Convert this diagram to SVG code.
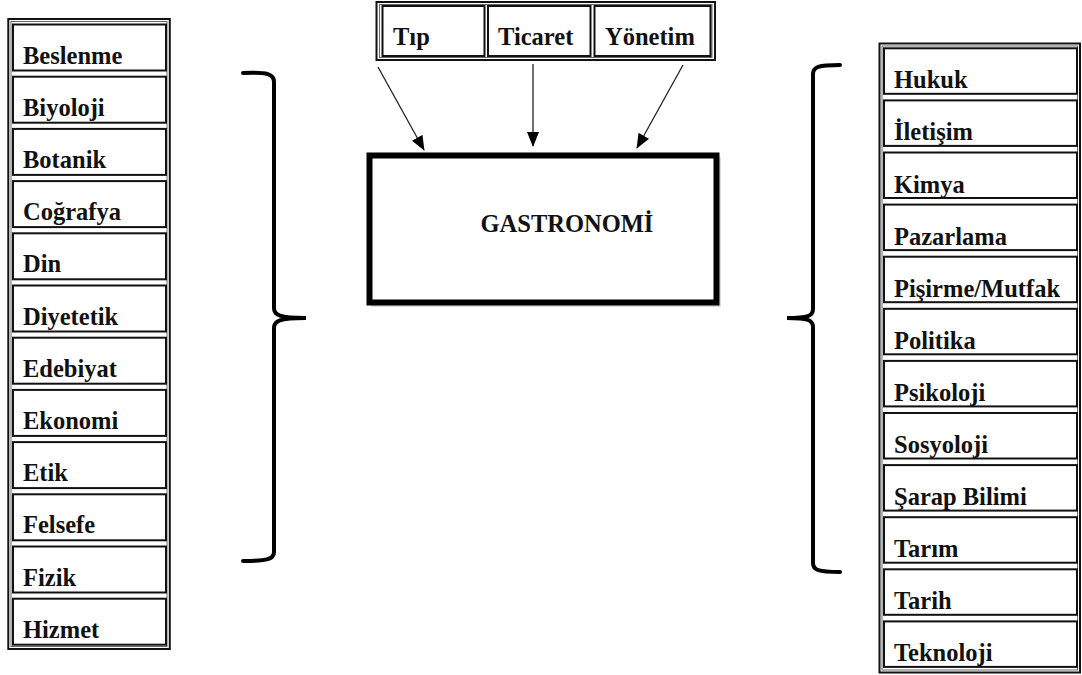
<svg xmlns="http://www.w3.org/2000/svg" width="1082" height="675" viewBox="0 0 1082 675">
<defs>
<style>
text{font-family:'Liberation Serif','Times New Roman','DejaVu Serif',serif;font-weight:700;font-size:24.5px;fill:#111}
.outer{fill:#fff;stroke:#111;stroke-width:2}
.inner{fill:none;stroke:#666;stroke-width:1}
.cell{fill:#fff;stroke:#111;stroke-width:2}
.conn{stroke:#222;stroke-width:1.3;fill:none}
.brace{stroke:#000;stroke-width:4;fill:none;stroke-linecap:round}
</style>
<marker id="ah" markerWidth="15" markerHeight="12" refX="14" refY="6" orient="auto" markerUnits="userSpaceOnUse">
<path d="M0,0 L15,6 L0,12 Z" fill="#000"/>
</marker>
</defs>
<rect width="1082" height="675" fill="#fff"/>

<g id="left-table">
<rect class="outer" x="8.3" y="19" width="161.5" height="630"/>
<rect class="inner" x="11" y="21.5" width="156" height="625"/>
<g id="n-beslenme"><rect class="cell" x="13" y="24.5" width="153" height="46"/><text x="23" y="63.5">Beslenme</text></g>
<g id="n-biyoloji"><rect class="cell" x="13" y="76.7" width="153" height="46"/><text x="23" y="115.7">Biyoloji</text></g>
<g id="n-botanik"><rect class="cell" x="13" y="128.9" width="153" height="46"/><text x="23" y="167.9">Botanik</text></g>
<g id="n-cografya"><rect class="cell" x="13" y="181.1" width="153" height="46"/><text x="23" y="220.1">Coğrafya</text></g>
<g id="n-din"><rect class="cell" x="13" y="233.3" width="153" height="46"/><text x="23" y="272.3">Din</text></g>
<g id="n-diyetetik"><rect class="cell" x="13" y="285.5" width="153" height="46"/><text x="23" y="324.5">Diyetetik</text></g>
<g id="n-edebiyat"><rect class="cell" x="13" y="337.7" width="153" height="46"/><text x="23" y="376.7">Edebiyat</text></g>
<g id="n-ekonomi"><rect class="cell" x="13" y="389.9" width="153" height="46"/><text x="23" y="428.9">Ekonomi</text></g>
<g id="n-etik"><rect class="cell" x="13" y="442.1" width="153" height="46"/><text x="23" y="481.1">Etik</text></g>
<g id="n-felsefe"><rect class="cell" x="13" y="494.3" width="153" height="46"/><text x="23" y="533.3">Felsefe</text></g>
<g id="n-fizik"><rect class="cell" x="13" y="546.5" width="153" height="46"/><text x="23" y="585.5">Fizik</text></g>
<g id="n-hizmet"><rect class="cell" x="13" y="598.7" width="153" height="46"/><text x="23" y="637.7">Hizmet</text></g>
</g>

<g id="right-table">
<rect class="outer" x="879.5" y="43.5" width="200.5" height="629"/>
<rect class="inner" x="882" y="46" width="195.5" height="624"/>
<g id="n-hukuk"><rect class="cell" x="884" y="48.3" width="193" height="45.5"/><text x="894" y="88.3">Hukuk</text></g>
<g id="n-iletisim"><rect class="cell" x="884" y="100.4" width="193" height="45.5"/><text x="894" y="140.4">İletişim</text></g>
<g id="n-kimya"><rect class="cell" x="884" y="152.5" width="193" height="45.5"/><text x="894" y="192.5">Kimya</text></g>
<g id="n-pazarlama"><rect class="cell" x="884" y="204.6" width="193" height="45.5"/><text x="894" y="244.6">Pazarlama</text></g>
<g id="n-pisirme"><rect class="cell" x="884" y="256.7" width="193" height="45.5"/><text x="894" y="296.7">Pişirme/Mutfak</text></g>
<g id="n-politika"><rect class="cell" x="884" y="308.8" width="193" height="45.5"/><text x="894" y="348.8">Politika</text></g>
<g id="n-psikoloji"><rect class="cell" x="884" y="360.9" width="193" height="45.5"/><text x="894" y="400.9">Psikoloji</text></g>
<g id="n-sosyoloji"><rect class="cell" x="884" y="413" width="193" height="45.5"/><text x="894" y="453">Sosyoloji</text></g>
<g id="n-sarap"><rect class="cell" x="884" y="465.1" width="193" height="45.5"/><text x="894" y="505.1">Şarap Bilimi</text></g>
<g id="n-tarim"><rect class="cell" x="884" y="517.2" width="193" height="45.5"/><text x="894" y="557.2">Tarım</text></g>
<g id="n-tarih"><rect class="cell" x="884" y="569.3" width="193" height="45.5"/><text x="894" y="609.3">Tarih</text></g>
<g id="n-teknoloji"><rect class="cell" x="884" y="621.4" width="193" height="45.5"/><text x="894" y="661.4">Teknoloji</text></g>
</g>

<g id="top-table">
<rect class="outer" x="376.5" y="2" width="338.5" height="58"/>
<rect class="inner" x="379.5" y="4.5" width="332.5" height="53"/>
<g id="n-tip"><rect class="cell" x="382.5" y="6" width="102" height="50"/><text x="393" y="45">Tıp</text></g>
<g id="n-ticaret"><rect class="cell" x="488" y="6" width="102.5" height="50"/><text x="498" y="45">Ticaret</text></g>
<g id="n-yonetim"><rect class="cell" x="594.5" y="6" width="116" height="50"/><text x="605" y="45">Yönetim</text></g>
</g>

<g id="n-gastronomi">
<rect x="372.5" y="158.5" width="347" height="147" fill="none" stroke="#ddd" stroke-width="3"/>
<rect x="369.5" y="155.5" width="347" height="147" fill="#fff" stroke="#000" stroke-width="6"/>
<text x="480.5" y="231.5">GASTRONOMİ</text>
</g>

<g id="connectors">
<line class="conn" x1="378" y1="67" x2="424" y2="150" marker-end="url(#ah)"/>
<line class="conn" x1="533" y1="64" x2="533" y2="146" marker-end="url(#ah)"/>
<line class="conn" x1="683" y1="65" x2="637" y2="148" marker-end="url(#ah)"/>
<path class="brace" d="M243,73 C268,72 274,74 274,82 L274,308 C274,315 279,318 306,318 C279,318 274,321 274,328 L274,552 C274,559 268,561 243,561"/>
<path class="brace" d="M840,65 C818,65 813,67 813,74 L813,309 C813,316 808,318 787,318 C808,318 813,320 813,327 L813,563 C813,570 818,572 840,572"/>
</g>
</svg>
